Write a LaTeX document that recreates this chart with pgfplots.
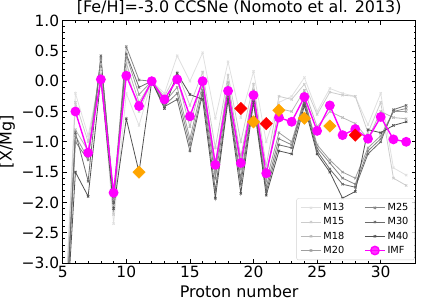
\documentclass[border=0pt]{standalone}
\usepackage{pgfplots}
\pgfplotsset{compat=1.18}
\usepackage{fontspec}
\setmainfont{DejaVu Sans}
\definecolor{g13}{gray}{0.88}
\definecolor{g15}{gray}{0.80}
\definecolor{g18}{gray}{0.72}
\definecolor{g20}{gray}{0.62}
\definecolor{g25}{gray}{0.52}
\definecolor{g30}{gray}{0.42}
\definecolor{g40}{gray}{0.32}
\definecolor{mag}{RGB}{255,0,255}
\definecolor{orng}{RGB}{255,165,0}
\pgfplotstableread{
Z M13 M15 M18 M20 M25 M30 M40
5 -4.6 -4.7 -4.8 -4.9 -5.0 -5.0 -5.0
6 -0.20 -0.35 -0.80 -0.90 -1.00 -0.85 -1.50
7 -0.90 -1.00 -1.15 -1.28 -1.30 -1.65 -1.90
8 0.15 0.20 0.28 0.35 0.38 0.42 0.05
9 -2.35 -2.20 -2.05 -1.95 -1.90 -2.00 -2.10
10 -0.20 0.20 0.30 0.42 0.57 0.45 -0.62
11 -0.73 -0.50 -0.35 -0.22 0.02 -0.10 -1.50
12 0 0 0 0 0 0 0
13 -0.20 -0.25 -0.30 -0.35 -0.40 -0.42 -0.45
14 0.42 0.15 0.05 -0.10 -0.20 -0.30 0.13
15 0.00 -0.40 -0.75 -0.95 -1.05 -1.15 -0.22
16 0.47 0.15 0.05 -0.05 -0.15 -0.20 -0.30
17 -0.61 -1.10 -1.35 -1.50 -1.60 -1.80 -1.93
18 0.32 0.10 -0.02 -0.10 -0.20 -0.25 -0.30
19 -0.60 -1.00 -1.25 -1.45 -1.60 -1.70 -1.85
20 0.16 -0.05 -0.15 -0.20 -0.25 -0.30 -0.35
21 -1.00 -1.40 -1.55 -1.65 -1.75 -1.82 -1.88
22 -0.35 -0.25 -0.45 -0.85 -0.95 -1.05 -1.15
23 -0.25 -0.30 -0.50 -1.00 -1.05 -1.10 -1.20
24 0.06 -0.05 -0.15 -0.30 -0.30 -0.35 -0.40
25 -0.50 -0.55 -0.75 -1.05 -1.10 -1.15 -1.20
26 -0.12 -0.18 -0.50 -1.30 -1.35 -1.45 -1.50
27 -0.20 -0.23 -0.60 -1.50 -1.60 -1.70 -1.93
28 -0.25 -0.25 -0.70 -1.60 -1.70 -1.75 -1.82
29 -0.72 -0.85 -0.95 -1.10 -1.15 -1.20 -0.80
30 -0.20 -0.35 -0.50 -0.90 -0.95 -1.00 -0.85
31 -1.43 -1.60 -0.60 -0.50 -0.50 -0.47 -0.73
32 -1.55 -1.72 -0.62 -0.50 -0.45 -0.40 -0.67
}\models
\pgfplotstableread{
Z IMF
6 -0.50
7 -1.18
8 0.03
9 -1.84
10 0.09
11 -0.41
12 0.00
13 -0.30
14 0.03
15 -0.58
16 0.00
17 -1.38
18 -0.16
19 -1.35
20 -0.23
21 -1.52
22 -0.60
23 -0.67
24 -0.26
25 -0.82
26 -0.40
27 -0.89
28 -0.79
29 -0.95
30 -0.59
31 -0.96
32 -1.00
}\imf
\pgfplotstableread{
Z v
19 -0.45
21 -0.70
28 -0.89
}\reddia
\pgfplotstableread{
Z v
11 -1.50
20 -0.67
22 -0.48
24 -0.61
26 -0.74
}\orangedia
\begin{document}
\begin{tikzpicture}
\path[use as bounding box] (-62.7bp,-40bp) rectangle (361.3bp,263bp);
\begin{axis}[
  at={(0,0)}, anchor=south west,
  scale only axis, width=353bp, height=242.4bp,
  xmin=5, xmax=32.75, ymin=-3, ymax=1,
  xtick={5,10,...,30},
  minor x tick num=4,
  ytick={-3,-2.5,-2,-1.5,-1,-0.5,0,0.5,1},
  yticklabels={−3.0,−2.5,−2.0,−1.5,−1.0,−0.5,0.0,0.5,1.0},
  minor y tick num=4,
  tick align=inside,
  tick pos=both,
  major tick length=4bp, minor tick length=2bp,
  tick style={black, line width=0.6bp},
  axis line style={line width=0.8bp},
  /pgf/number format/assume math mode=true,
  ticklabel style={font=\fontsize{15.5}{18}\selectfont},
  xlabel={Proton number},
  ylabel={\relax[X/Mg]},
  label style={font=\fontsize{16}{19}\selectfont},
  title={\relax[Fe/H]=-3.0 CCSNe (Nomoto et al. 2013)},
  title style={font=\fontsize{16}{19}\selectfont, yshift=-3bp},
  legend columns=2,
  legend cell align=left,
  legend image code/.code={\draw[mark repeat=2,mark phase=2,#1] plot coordinates {(0bp,0bp) (10bp,0bp) (20bp,0bp)};},
  legend style={at={(0.997,0.012)}, anchor=south east,
    font=\fontsize{9.8}{11}\selectfont,
    draw=gray!35, rounded corners=2bp, fill=white, fill opacity=0.8, text opacity=1,
    inner xsep=4bp, inner ysep=3bp,
    /tikz/every even column/.append style={column sep=18bp},
    row sep=1.5bp},
  model/.style={line width=0.8bp, mark=x, mark size=1.6bp},
  clip=true,
]
\addplot[model, g13, forget plot] table[x=Z, y=M13] {\models};
\addplot[model, g15, forget plot] table[x=Z, y=M15] {\models};
\addplot[model, g18, forget plot] table[x=Z, y=M18] {\models};
\addplot[model, g20, forget plot] table[x=Z, y=M20] {\models};
\addplot[model, g25, forget plot] table[x=Z, y=M25] {\models};
\addplot[model, g30, forget plot] table[x=Z, y=M30] {\models};
\addplot[model, g40, forget plot] table[x=Z, y=M40] {\models};
\addplot[mag, line width=1.4bp, mark=*, mark size=4.2bp, forget plot] table[x=Z, y=IMF] {\imf};
\addplot[only marks, red, mark=square*, mark size=4.4bp, mark options={rotate=45}, forget plot] table[x=Z, y=v] {\reddia};
\addplot[only marks, orng, mark=square*, mark size=4.4bp, mark options={rotate=45}, forget plot] table[x=Z, y=v] {\orangedia};
\addlegendimage{model, g13}\addlegendentry{M13}
\addlegendimage{model, g25}\addlegendentry{M25}
\addlegendimage{model, g15}\addlegendentry{M15}
\addlegendimage{model, g30}\addlegendentry{M30}
\addlegendimage{model, g18}\addlegendentry{M18}
\addlegendimage{model, g40}\addlegendentry{M40}
\addlegendimage{model, g20}\addlegendentry{M20}
\addlegendimage{mag, line width=1.4bp, mark=*, mark size=4.2bp}\addlegendentry{IMF}
\end{axis}
\end{tikzpicture}
\end{document}
